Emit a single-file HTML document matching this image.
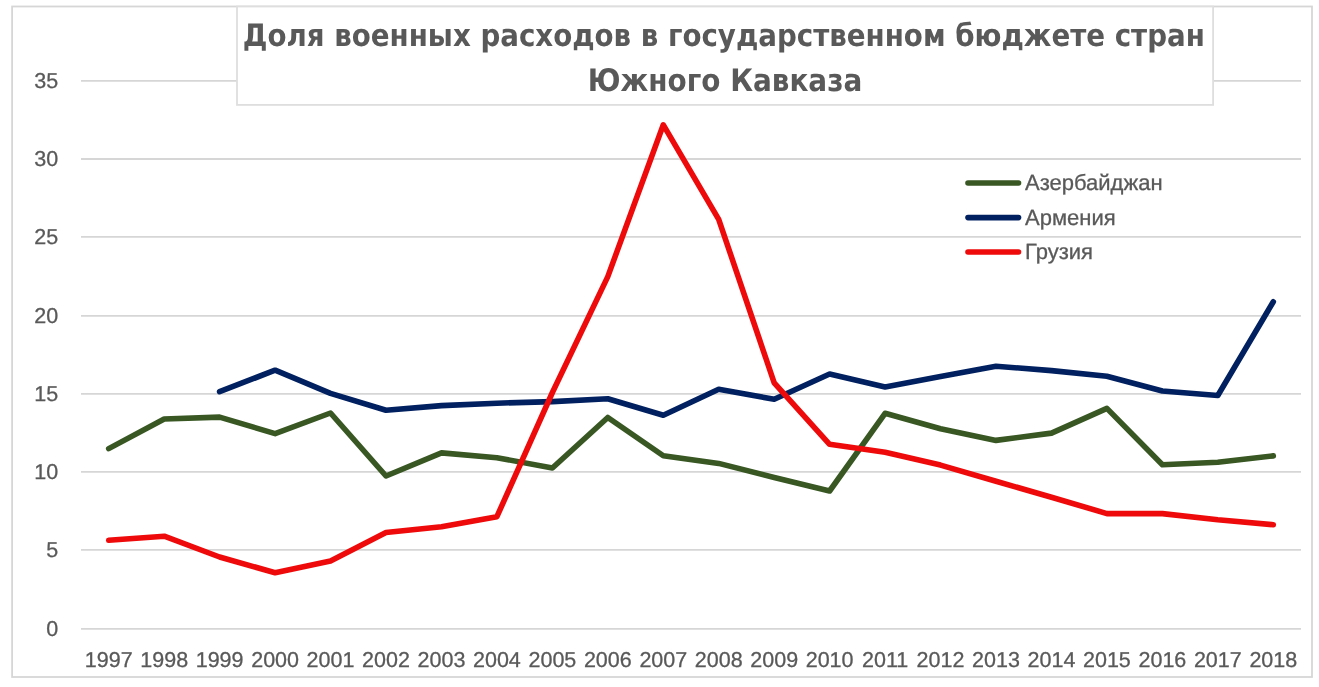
<!DOCTYPE html>
<html><head><meta charset="utf-8"><style>
html,body{margin:0;padding:0;background:#fff;}
body{width:1319px;height:687px;overflow:hidden;}
svg{display:block;}
.ax.lg{font-size:22px;}
text{text-rendering:geometricPrecision;}
.ax,.tt{filter:grayscale(1);}
.ax{font-family:"Liberation Sans",sans-serif;font-size:21.5px;fill:#595959;stroke:#595959;stroke-width:0.3px;}
.tt{font-family:"DejaVu Sans Condensed","DejaVu Sans","Liberation Sans",sans-serif;font-weight:bold;font-size:31px;fill:#595959;}
</style></head><body>
<svg width="1319" height="687" viewBox="0 0 1319 687">
<rect x="0" y="0" width="1319" height="687" fill="#fff"/>
<rect x="12.1" y="6.5" width="1299.9" height="670.5" fill="#fff" stroke="#d6d6d6" stroke-width="1.8"/>
<g stroke="#d6d6d6" stroke-width="1.8">
<line x1="81.0" y1="628.9" x2="1301.0" y2="628.9"/>
<line x1="81.0" y1="549.8" x2="1301.0" y2="549.8"/>
<line x1="81.0" y1="471.9" x2="1301.0" y2="471.9"/>
<line x1="81.0" y1="393.9" x2="1301.0" y2="393.9"/>
<line x1="81.0" y1="315.9" x2="1301.0" y2="315.9"/>
<line x1="81.0" y1="236.9" x2="1301.0" y2="236.9"/>
<line x1="81.0" y1="159.0" x2="1301.0" y2="159.0"/>
<line x1="81.0" y1="80.9" x2="1301.0" y2="80.9"/>
</g>
<rect x="237" y="6.5" width="976.1" height="98.4" fill="#fff" stroke="#dedede" stroke-width="1.8"/>
<g class="tt">
<text x="723.8" y="45.8" text-anchor="middle" textLength="962" lengthAdjust="spacingAndGlyphs">Доля военных расходов в государственном бюджете стран</text>
<text x="725" y="90.7" text-anchor="middle" textLength="274.4" lengthAdjust="spacingAndGlyphs">Южного Кавказа</text>
</g>
<g class="ax">
<text x="58.2" y="636.1" text-anchor="end">0</text>
<text x="58.2" y="557.0" text-anchor="end">5</text>
<text x="58.2" y="479.1" text-anchor="end">10</text>
<text x="58.2" y="401.1" text-anchor="end">15</text>
<text x="58.2" y="323.1" text-anchor="end">20</text>
<text x="58.2" y="244.1" text-anchor="end">25</text>
<text x="58.2" y="166.2" text-anchor="end">30</text>
<text x="58.2" y="88.1" text-anchor="end">35</text>
<text x="108.7" y="667" text-anchor="middle">1997</text>
<text x="164.2" y="667" text-anchor="middle">1998</text>
<text x="219.6" y="667" text-anchor="middle">1999</text>
<text x="275.1" y="667" text-anchor="middle">2000</text>
<text x="330.5" y="667" text-anchor="middle">2001</text>
<text x="386.0" y="667" text-anchor="middle">2002</text>
<text x="441.5" y="667" text-anchor="middle">2003</text>
<text x="496.9" y="667" text-anchor="middle">2004</text>
<text x="552.4" y="667" text-anchor="middle">2005</text>
<text x="607.8" y="667" text-anchor="middle">2006</text>
<text x="663.3" y="667" text-anchor="middle">2007</text>
<text x="718.7" y="667" text-anchor="middle">2008</text>
<text x="774.2" y="667" text-anchor="middle">2009</text>
<text x="829.6" y="667" text-anchor="middle">2010</text>
<text x="885.1" y="667" text-anchor="middle">2011</text>
<text x="940.5" y="667" text-anchor="middle">2012</text>
<text x="996.0" y="667" text-anchor="middle">2013</text>
<text x="1051.5" y="667" text-anchor="middle">2014</text>
<text x="1106.9" y="667" text-anchor="middle">2015</text>
<text x="1162.4" y="667" text-anchor="middle">2016</text>
<text x="1217.8" y="667" text-anchor="middle">2017</text>
<text x="1273.3" y="667" text-anchor="middle">2018</text>
</g>
<g fill="none" stroke-width="5.6" stroke-linecap="round" stroke-linejoin="round">
<polyline stroke="#385723" points="108.7,448.6 164.2,419.0 219.6,417.1 275.1,433.6 330.5,413.0 386.0,476.0 441.5,452.9 496.9,457.7 552.4,468.0 607.8,417.5 663.3,455.7 718.7,463.4 774.2,477.5 829.6,491.0 885.1,413.3 940.5,428.8 996.0,440.4 1051.5,433.1 1106.9,408.4 1162.4,464.8 1217.8,462.3 1273.3,455.9"/>
<polyline stroke="#002060" points="219.6,391.7 275.1,370.2 330.5,393.4 386.0,410.3 441.5,405.6 496.9,403.2 552.4,401.6 607.8,398.8 663.3,415.3 718.7,389.2 774.2,399.3 829.6,374.0 885.1,386.9 940.5,376.4 996.0,366.2 1051.5,370.6 1106.9,376.3 1162.4,391.0 1217.8,395.5 1273.3,301.8"/>
<polyline stroke="#EE0A0A" points="108.7,540.3 164.2,536.2 219.6,557.0 275.1,572.7 330.5,560.9 386.0,532.5 441.5,526.7 496.9,516.7 552.4,392.5 607.8,276.6 663.3,124.8 718.7,219.3 774.2,382.8 829.6,444.3 885.1,452.3 940.5,465.1 996.0,481.2 1051.5,497.2 1106.9,513.6 1162.4,513.6 1217.8,519.8 1273.3,524.7"/>
</g>
<g stroke-width="5.6" stroke-linecap="round">
<line x1="968" y1="183" x2="1018.5" y2="183" stroke="#385723"/>
<line x1="968" y1="217.6" x2="1018.5" y2="217.6" stroke="#002060"/>
<line x1="968" y1="252" x2="1018.5" y2="252" stroke="#EE0A0A"/>
</g>
<g class="ax lg">
<text x="1025" y="189.9">Азербайджан</text>
<text x="1025" y="224.6">Армения</text>
<text x="1025" y="258.8">Грузия</text>
</g>
</svg>
</body></html>
